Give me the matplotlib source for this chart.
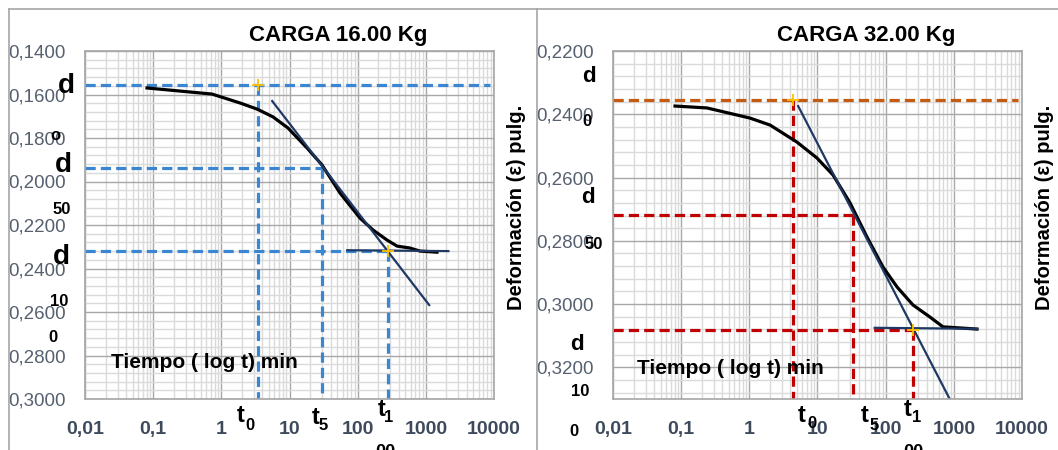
import matplotlib.pyplot as plt
from matplotlib.lines import Line2D
from matplotlib.ticker import FixedLocator, LogLocator, NullFormatter
import numpy as np

plt.rcParams['font.family'] = ['Liberation Sans', 'DejaVu Sans']

# ---- data ----
titles = ["CARGA 16.00 Kg", "CARGA 32.00 Kg"]
x_ticks = [0.01, 0.1, 1, 10, 100, 1000, 10000]
x_tick_labels = ["0,01", "0,1", "1", "10", "100", "1000", "10000"]
y_label = "Deformación (ε) pulg."
x_note = "Tiempo ( log t) min"

# 16 kg load
t_16 = [0.0813, 0.73, 1.88, 3.34, 5.73, 9.5, 18.1, 30.0, 55.1, 108, 168, 269,
        378, 586, 821, 1458]
d_16 = [0.1570, 0.1598, 0.1639, 0.1667, 0.1703, 0.1754, 0.1846, 0.1924,
        0.2053, 0.2168, 0.2223, 0.2269, 0.2297, 0.2306, 0.2320, 0.2325]
steep_t_16 = [5.57, 1120]
steep_d_16 = [0.1630, 0.2568]
flat_t_16 = [70.3, 2140]
flat_d_16 = [0.2316, 0.2320]
ref_t_16 = [3.46, 30, 280]          # t0, t50, t100
ref_d_16 = [0.1556, 0.1938, 0.2320]  # d0, d50, d100
yticks_16 = [0.14, 0.16, 0.18, 0.20, 0.22, 0.24, 0.26, 0.28, 0.30]
ylabels_16 = ["0,1400", "0,1600", "0,1800", "0,2000", "0,2200", "0,2400",
              "0,2600", "0,2800", "0,3000"]
ylim_16 = (0.30, 0.14)

# 32 kg load
t_32 = [0.0813, 0.239, 1.02, 2.01, 5.0, 9.8, 16.9, 30.0, 53.2, 91.4, 147, 252,
        447, 693, 1362, 2188]
d_32 = [0.2374, 0.2380, 0.2412, 0.2434, 0.2488, 0.2538, 0.2592, 0.2680,
        0.2788, 0.2883, 0.2946, 0.3003, 0.3041, 0.3072, 0.3076, 0.3079]
steep_t_32 = [5.2, 870]
steep_d_32 = [0.2374, 0.3300]
flat_t_32 = [69, 2180]
flat_d_32 = [0.3075, 0.3078]
ref_t_32 = [4.4, 33, 250]
ref_d_32 = [0.2355, 0.2718, 0.3082]
yticks_32 = [0.22, 0.24, 0.26, 0.28, 0.30, 0.32]
ylabels_32 = ["0,2200", "0,2400", "0,2600", "0,2800", "0,3000", "0,3200"]
ylim_32 = (0.33, 0.22)

W, H = 1058, 450
fig = plt.figure(figsize=(W / 100, H / 100), dpi=100)


def px(x, y):
    return x / W, 1 - y / H


def panel(left_px, title, title_x, t, d, st, sd, ft, fd, rt, rd,
          yticks, ylabels, ylim, c_d0, c_ref):
    ax = fig.add_axes([left_px / W, 1 - 399 / H, 409 / W, 348 / H])
    ax.set_xscale('log')
    ax.set_xlim(0.01, 10000)
    ax.set_ylim(*ylim)

    ax.xaxis.set_major_locator(FixedLocator(x_ticks))
    ax.set_xticklabels(x_tick_labels)
    ax.xaxis.set_minor_locator(LogLocator(base=10, subs=np.arange(2, 10)))
    ax.xaxis.set_minor_formatter(NullFormatter())
    ax.yaxis.set_major_locator(FixedLocator(yticks))
    ax.set_yticklabels(ylabels)
    ax.yaxis.set_minor_locator(FixedLocator(np.arange(ylim[1], ylim[0] + 1e-9, 0.004)))

    ax.tick_params(which='both', length=0)
    ax.tick_params(axis='x', pad=16, labelsize=14, labelcolor='#3e4a5c')
    ax.tick_params(axis='y', pad=14, labelsize=13.5, labelcolor='#56606f')
    for lab in ax.get_xticklabels():
        lab.set_fontweight('bold')

    ax.grid(which='minor', color='#dadada', lw=1)
    ax.grid(which='major', color='#a8a8a8', lw=1)
    ax.set_axisbelow(True)
    for s in ax.spines.values():
        s.set_color('#a6a6a6')
        s.set_linewidth(1.2)

    dash = (0, (3.2, 1.6))
    lw = 2.3
    bottom = ylim[0]
    # reference lines
    ax.plot([0.01, 8700], [rd[0], rd[0]], color=c_d0, lw=lw, ls=dash)
    ax.plot([rt[0], rt[0]], [rd[0], bottom], color=c_ref, lw=lw, ls=dash)
    for tt, dd in zip(rt[1:], rd[1:]):
        ax.plot([0.01, tt], [dd, dd], color=c_ref, lw=lw, ls=dash)
        ax.plot([tt, tt], [dd, bottom], color=c_ref, lw=lw, ls=dash)

    # curve and tangents
    ax.plot(t, d, color='black', lw=2.3)
    ax.plot(st, sd, color='#1f3864', lw=1.6)
    ax.plot(ft, fd, color='#1f3864', lw=1.6)
    ax.plot([rt[0], rt[2]], [rd[0], rd[2]], ls='none', marker='+',
            ms=9, mew=1.3, color='#ffc000')

    fig.text(*px(title_x, 35), title, ha='center', va='center',
             fontsize=16, fontweight='bold')
    return ax


panel(85, titles[0], 338, t_16, d_16, steep_t_16, steep_d_16, flat_t_16, flat_d_16,
      ref_t_16, ref_d_16, yticks_16, ylabels_16, ylim_16, '#3a86d1', '#3a86d1')
panel(613, titles[1], 866, t_32, d_32, steep_t_32, steep_d_32, flat_t_32, flat_d_32,
      ref_t_32, ref_d_32, yticks_32, ylabels_32, ylim_32, '#c55a11', '#c00000')

# axis titles
fig.text(*px(516, 207), y_label, rotation=90, ha='center', va='center',
         fontsize=14.5, fontweight='bold')
fig.text(*px(1045, 207), y_label, rotation=90, ha='center', va='center',
         fontsize=14.5, fontweight='bold')
fig.text(*px(204, 362), x_note, ha='center', va='center', fontsize=15, fontweight='bold')
fig.text(*px(730, 368), x_note, ha='center', va='center', fontsize=15, fontweight='bold')

# broken d-labels on the left of each chart
for (x, y, s, fs) in [(66, 86, "d", 20), (55, 135, "o", 12), (63, 165, "d", 20),
                      (62, 210, "50", 12), (61, 257, "d", 20), (59, 302, "10", 12),
                      (53, 338, "0", 12),
                      (589, 77, "d", 16), (587, 122, "0", 12), (588, 197, "d", 16),
                      (594, 244, "50", 12), (577, 345, "d", 16), (580, 391, "10", 12),
                      (574, 432, "0", 12)]:
    fig.text(*px(x, y), s, ha='center', va='center', fontsize=fs, fontweight='bold')

# t labels below the axes
for (x, y, s, fs) in [(241, 416, "t", 17), (250, 426, "0", 12),
                      (316, 417, "t", 17), (323, 426, "5", 12),
                      (382, 410, "t", 17), (389, 417, "1", 12),
                      (802, 415, "t", 17), (812, 423, "0", 12),
                      (865, 415, "t", 17), (874, 425, "5", 12),
                      (908, 409, "t", 17), (917, 418, "1", 12)]:
    fig.text(*px(x, y), s, ha='center', va='center', fontsize=fs, fontweight='bold')
fig.text(*px(385, 444), "00", ha='center', va='top', fontsize=13, fontweight='bold')
fig.text(*px(913, 444), "00", ha='center', va='top', fontsize=13, fontweight='bold')

# chart frames
for xs, ys in [([9, W], [9, 9]), ([9, 9], [9, H]), ([537, 537], [9, H])]:
    fig.add_artist(Line2D([x / W for x in xs], [1 - y / H for y in ys],
                          color='#a6a6a6', lw=1.2))

fig.savefig('out.png', dpi=100)
